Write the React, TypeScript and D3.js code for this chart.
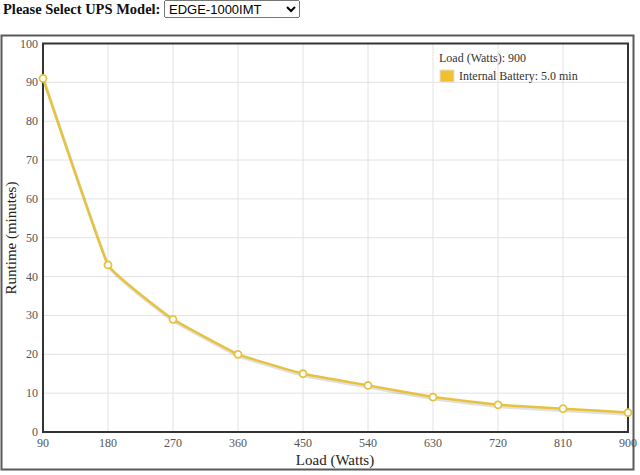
import React, { useEffect, useRef } from 'react'
import * as d3 from 'd3'

const loads = [90, 180, 270, 360, 450, 540, 630, 720, 810, 900]
const runtimes = [91, 43, 29, 20, 15, 12, 9, 7, 6, 5]
const yTicks = [0, 10, 20, 30, 40, 50, 60, 70, 80, 90, 100]
const models = ['EDGE-1000IMT']

const LINE = '#E6C23F'

const Chart: React.FC = () => {
    const ref = useRef<SVGSVGElement>(null)
    useEffect(() => {
        const svg = d3.select(ref.current)
        svg.selectAll('*').remove()
        const x = d3.scaleLinear().domain([90, 900]).range([43, 628])
        const y = d3.scaleLinear().domain([0, 100]).range([432, 43.5])
        const data = loads.map((l, i) => ({ l, r: runtimes[i] }))

        // outer frame
        svg.append('rect')
            .attr('x', 1.5).attr('y', 35.5).attr('width', 632).attr('height', 434)
            .attr('fill', '#fff').attr('stroke', '#5a5a5a').attr('stroke-width', 2)

        // grid
        svg.append('g').selectAll('line').data(yTicks).join('line')
            .attr('x1', 43).attr('x2', 628)
            .attr('y1', (d) => y(d)).attr('y2', (d) => y(d))
            .attr('stroke', '#e2e2e2').attr('stroke-width', 1)
        svg.append('g').selectAll('line').data(loads).join('line')
            .attr('y1', 43.5).attr('y2', 432)
            .attr('x1', (d) => x(d)).attr('x2', (d) => x(d))
            .attr('stroke', '#e2e2e2').attr('stroke-width', 1)

        // plot frame
        svg.append('rect')
            .attr('x', 43).attr('y', 43.5).attr('width', 585).attr('height', 388.5)
            .attr('fill', 'none').attr('stroke', '#333').attr('stroke-width', 2)

        const fnt = "'Liberation Serif', 'Times New Roman', serif"
        // y tick labels
        svg.append('g').selectAll('text').data(yTicks).join('text')
            .attr('x', 38).attr('y', (d) => y(d) + 4)
            .attr('text-anchor', 'end')
            .attr('font-family', fnt).attr('font-size', 12).attr('fill', '#555')
            .text((d) => d)
        // x tick labels
        svg.append('g').selectAll('text').data(loads).join('text')
            .attr('x', (d) => x(d)).attr('y', 447)
            .attr('text-anchor', 'middle')
            .attr('font-family', fnt).attr('font-size', 12).attr('fill', '#555')
            .text((d) => d)

        svg.append('text')
            .attr('x', 335).attr('y', 465).attr('text-anchor', 'middle')
            .attr('font-family', fnt).attr('font-size', 15).attr('fill', '#222')
            .text('Load (Watts)')
        svg.append('text')
            .attr('transform', 'translate(16,238) rotate(-90)').attr('text-anchor', 'middle')
            .attr('font-family', fnt).attr('font-size', 15).attr('fill', '#222')
            .text('Runtime (minutes)')

        const line = d3.line<any>()
            .curve(d3.curveCardinal.tension(0.75))
            .x((d) => x(d.l))
            .y((d) => y(d.r))

        // shadow
        svg.append('path').datum(data)
            .attr('d', line)
            .attr('transform', 'translate(1,2)')
            .attr('fill', 'none').attr('stroke', '#000').attr('stroke-opacity', 0.12)
            .attr('stroke-width', 3)
        svg.append('path').datum(data)
            .attr('d', line)
            .attr('fill', 'none').attr('stroke', LINE).attr('stroke-width', 2.5)

        svg.append('g').selectAll('circle').data(data).join('circle')
            .attr('cx', (d) => x(d.l)).attr('cy', (d) => y(d.r))
            .attr('r', 3.5)
            .attr('fill', '#fff').attr('stroke', LINE).attr('stroke-width', 1.8)

        // tooltip legend
        const last = data[data.length - 1]
        svg.append('text')
            .attr('x', 439).attr('y', 62)
            .attr('font-family', fnt).attr('font-size', 12).attr('fill', '#333')
            .text(`Load (Watts): ${last.l}`)
        svg.append('rect')
            .attr('x', 440).attr('y', 70).attr('width', 14).attr('height', 12)
            .attr('fill', '#F0C030').attr('stroke', '#e0e0e0').attr('stroke-width', 1)
        svg.append('text')
            .attr('x', 459).attr('y', 80)
            .attr('font-family', fnt).attr('font-size', 12).attr('fill', '#333')
            .text(`Internal Battery: ${last.r.toFixed(1)} min`)
    }, [])
    return <svg ref={ref} width={640} height={475} style={{ position: 'absolute', left: 0, top: 0 }} />
}

export default function App() {
    return (
        <div style={{ position: 'absolute', left: 0, top: 0, width: 640, height: 475, background: '#fff', overflow: 'hidden' }}>
            <Chart />
            <div style={{ position: 'absolute', left: 3, top: 0, fontFamily: "'Liberation Serif', serif", fontWeight: 'bold', fontSize: 14.5, color: '#111', lineHeight: '18px', whiteSpace: 'nowrap' }}>
                Please Select UPS Model:
            </div>
            <select
                defaultValue={models[0]}
                style={{ position: 'absolute', left: 164, top: 0, width: 136, height: 18, fontSize: 13, fontFamily: "'Liberation Sans', Arial, sans-serif", padding: 0 }}
            >
                {models.map((m) => <option key={m}>{m}</option>)}
            </select>
        </div>
    )
}
